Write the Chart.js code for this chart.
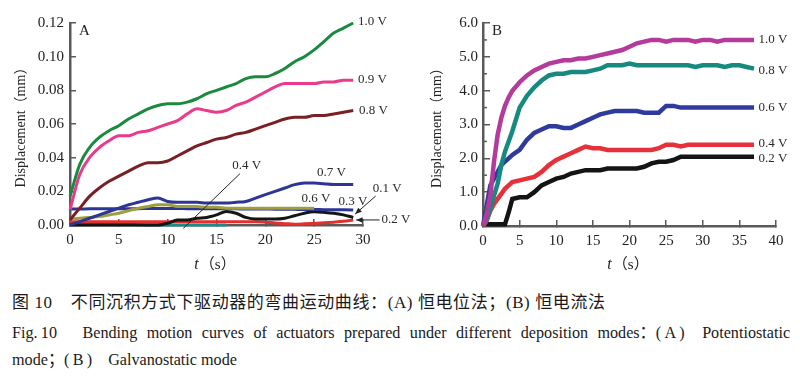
<!DOCTYPE html>
<html><head><meta charset="utf-8">
<script src="https://cdn.jsdelivr.net/npm/chart.js@4.4.0/dist/chart.umd.min.js"></script>
<style>
html,body{margin:0;padding:0;background:#fff;width:800px;height:376px;overflow:hidden;position:relative;}
#ca{position:absolute;left:0;top:0;}
#cb{position:absolute;left:420px;top:0;}
.cap{position:absolute;left:12px;white-space:nowrap;transform-origin:0 0;color:#1a1a1a;}
.ib{display:inline-block;}
#c1{top:288px;font:17px "Liberation Serif","Noto Sans CJK SC";letter-spacing:0.6px;}
#c2{top:318px;font:17px "Liberation Serif","Noto Sans CJK SC";width:819px;text-align:justify;text-align-last:justify;transform:scaleX(0.95);}
#c3{top:345px;font:17px "Liberation Serif","Noto Sans CJK SC";transform:scaleX(0.95);}
</style></head><body>
<canvas id="ca" width="420" height="285"></canvas>
<canvas id="cb" width="380" height="285"></canvas>
<div class="cap" id="c1">图 10&ensp;&ensp;不同沉积方式下驱动器的弯曲运动曲线：(A) 恒电位法；(B) 恒电流法</div>
<div class="cap" id="c2"><span class="ib">Fig.&#8201;10&emsp;</span> Bending motion curves of actuators prepared under different deposition <span class="ib">modes：(&#8201;A&#8201;)&#8194;</span> Potentiostatic</div>
<div class="cap" id="c3">mode；(&#8201;B&#8201;)&#8194;&#8194;Galvanostatic mode</div>
<script>
// ---------- Panel A (potentiostatic) ----------
const aTime = [0,1,2,3,4,5,6,7,8,9,10,11,12,13,14,15,16,17,18,19,20,21,22,23,24,25,26,27,28,29];
const aV10 = [0.017,0.036,0.046,0.052,0.056,0.059,0.063,0.066,0.069,0.071,0.072,0.072,0.073,0.075,0.078,0.080,0.082,0.084,0.087,0.088,0.088,0.090,0.093,0.097,0.100,0.104,0.109,0.114,0.117,0.120];
const aV09 = [0.009,0.030,0.040,0.046,0.050,0.053,0.053,0.055,0.056,0.058,0.060,0.062,0.066,0.069,0.068,0.067,0.068,0.071,0.073,0.076,0.079,0.082,0.084,0.084,0.084,0.084,0.085,0.085,0.086,0.086];
const aV08 = [0.003,0.010,0.017,0.022,0.026,0.029,0.032,0.035,0.037,0.037,0.038,0.041,0.044,0.047,0.049,0.051,0.052,0.054,0.055,0.057,0.059,0.061,0.063,0.064,0.064,0.065,0.065,0.066,0.067,0.068];
const aV07 = [0.000,0.002,0.004,0.006,0.008,0.010,0.012,0.0135,0.015,0.016,0.014,0.0135,0.0135,0.0135,0.013,0.013,0.013,0.0135,0.014,0.016,0.018,0.020,0.022,0.024,0.025,0.025,0.0245,0.024,0.024,0.024];
const aV06 = [0.0035,0.004,0.0045,0.005,0.006,0.007,0.0085,0.010,0.011,0.012,0.012,0.011,0.011,0.011,0.0105,0.0105,0.010,0.010,0.010,0.010,0.010,0.010,0.010,0.010,0.010,0.010,null,null,null,null];
const aV03 = [0.0095,0.0095,0.0096,0.0096,0.0097,0.0097,0.0097,0.0097,0.0098,0.0098,0.0098,0.0098,0.0097,0.0097,0.0097,0.0096,0.0096,0.0096,0.0095,0.0095,0.0095,0.0094,0.0094,0.0093,0.0092,0.0092,0.0091,0.0091,0.0090,0.0089];
const aV01 = [0,0,0,0,0,0,0,0,0,0,0.001,0.003,0.003,0.004,0.0045,0.006,0.008,0.007,0.0045,0.0035,0.0035,0.0035,0.004,0.0055,0.007,0.0078,0.0075,0.007,0.006,0.0045];
const aV02 = [0.002,0.002,0.002,0.002,0.002,0.002,0.002,0.002,0.002,0.002,0.002,0.002,0.002,0.002,0.002,0.002,0.002,0.002,0.002,0.002,0.0017,0.0012,0.0008,0.0005,0.0007,0.001,0.0013,0.0017,0.0022,0.003];
const aV04 = [0.0015,0.0014,0.0013,0.0012,0.001,0.0008,0.0004,0.0002,0,0,0,0,0,0,0,0,0,null,null,null,null,null,null,null,null,null,null,null,null,null];
const aXTicks = [0,5,10,15,20,25,30];
const aYTicks = [0,0.02,0.04,0.06,0.08,0.10,0.12];

// ---------- Panel B (galvanostatic) ----------
const bTime = [0,0.5,1,1.5,2,2.5,3,3.5,4,5,6,7,8,9,10,11,12,13,14,15,16,17,18,19,20,21,22,23,24,25,26,27,28,29,30,31,32,33,34,35,36,37];
const bV10 = [0,0.35,0.9,1.9,2.7,3.2,3.55,3.8,4.0,4.25,4.45,4.6,4.7,4.8,4.85,4.9,4.9,4.95,4.95,5.0,5.05,5.1,5.15,5.2,5.3,5.4,5.45,5.5,5.5,5.45,5.5,5.5,5.5,5.45,5.5,5.5,5.45,5.5,5.5,5.5,5.5,5.5];
const bV08 = [0,0.2,0.5,0.9,1.25,1.8,2.2,2.5,2.8,3.5,3.85,4.1,4.3,4.45,4.5,4.5,4.55,4.55,4.55,4.6,4.65,4.75,4.75,4.75,4.8,4.75,4.75,4.75,4.75,4.75,4.75,4.75,4.75,4.7,4.75,4.75,4.75,4.7,4.75,4.75,4.7,4.65];
const bV06 = [0,0.6,1.2,1.4,1.6,1.8,1.9,2.0,2.1,2.25,2.55,2.75,2.85,2.95,2.95,2.9,2.9,3.0,3.1,3.2,3.3,3.35,3.4,3.4,3.4,3.4,3.35,3.35,3.35,3.55,3.55,3.5,3.5,3.5,3.5,3.5,3.5,3.5,3.5,3.5,3.5,3.5];
const bV04 = [0,0.15,0.45,0.65,0.8,0.95,1.1,1.2,1.3,1.35,1.4,1.45,1.6,1.8,1.95,2.05,2.15,2.25,2.35,2.3,2.3,2.25,2.25,2.25,2.25,2.25,2.25,2.25,2.3,2.4,2.4,2.35,2.4,2.4,2.4,2.4,2.4,2.4,2.4,2.4,2.4,2.4];
const bV02 = [0.05,0.05,0.05,0.05,0.05,0.05,0.05,0.4,0.8,0.85,0.85,1.0,1.2,1.3,1.4,1.45,1.55,1.6,1.65,1.65,1.65,1.7,1.7,1.7,1.7,1.7,1.75,1.85,1.9,1.9,1.95,2.05,2.05,2.05,2.05,2.05,2.05,2.05,2.05,2.05,2.05,2.05];
const bXTicks = [0,5,10,15,20,25,30,35,40];
const bYTicks = [0,1,2,3,4,5,6];

const FONT = '"Liberation Serif", "Noto Sans CJK SC", serif';
const AXC = '#5a5a5a';

function pts(t, v){ return t.map((x,i)=>({x:x, y:v[i]})); }

function ds(label, t, v, color, w){
  return {label, data: pts(t,v), borderColor: color, backgroundColor: color, borderWidth: w,
    pointRadius: 0, fill: false, cubicInterpolationMode: 'monotone', spanGaps: false, clip: 6};
}

function axisOpts(ticksArr, fmt, isY, fit){
  return {
    type: 'linear', min: ticksArr[0], max: ticksArr[ticksArr.length-1],
    afterBuildTicks: s => { s.ticks = ticksArr.map(v=>({value:v})); },
    afterFit: fit,
    border: {display: true, color: AXC, width: 2.5},
    grid: {display: true, drawOnChartArea: false, drawTicks: true, tickLength: -6, color: AXC, lineWidth: 1.5},
    ticks: {padding: 12, color: '#222', font: {family: FONT, size: 15}, callback: v => fmt(v), maxRotation: 0, autoSkip: false}
  };
}

function noteDraw(chart, cfg){
  const {ctx} = chart; const x = chart.scales.x, y = chart.scales.y;
  const X = v => x.getPixelForValue(v), Y = v => y.getPixelForValue(v);
  ctx.save();
  ctx.fillStyle = '#2a2a2a';
  ctx.textBaseline = 'middle'; ctx.textAlign = 'left';
  ctx.font = '13px ' + FONT;
  cfg.labels.forEach(L => ctx.fillText(L[0], X(L[1]), Y(L[2])));
  ctx.strokeStyle = '#222'; ctx.lineWidth = 1;
  (cfg.lines||[]).forEach(Ln => {
    const x1=X(Ln[0]), y1=Y(Ln[1]), x2=X(Ln[2]), y2=Y(Ln[3]);
    ctx.beginPath(); ctx.moveTo(x1,y1); ctx.lineTo(x2,y2); ctx.stroke();
    if (Ln[4]) {
      const a = Math.atan2(y2-y1, x2-x1), h = 7;
      ctx.beginPath(); ctx.moveTo(x2,y2);
      ctx.lineTo(x2 - h*Math.cos(a-0.4), y2 - h*Math.sin(a-0.4));
      ctx.lineTo(x2 - h*Math.cos(a+0.4), y2 - h*Math.sin(a+0.4));
      ctx.closePath(); ctx.fillStyle = '#222'; ctx.fill();
    }
  });
  ctx.font = '15px ' + FONT; ctx.fillStyle = '#222';
  ctx.fillText(cfg.letter, chart.chartArea.left + 9, chart.chartArea.top + 8);
  const cx = (chart.chartArea.left + chart.chartArea.right)/2 - 2;
  const ty = cfg.titleY;
  ctx.font = 'italic 16px ' + FONT;
  const w1 = ctx.measureText('t').width;
  ctx.font = '15px ' + FONT;
  const rest = '（s）';
  const w2 = ctx.measureText(rest).width;
  const sx = cx - (w1 + w2)/2;
  ctx.font = 'italic 16px ' + FONT; ctx.fillText('t', sx, ty);
  ctx.font = '15px ' + FONT; ctx.fillText(rest, sx + w1 + 1, ty);
  if (cfg.minor) {
    ctx.strokeStyle = AXC; ctx.lineWidth = 1.5;
    cfg.minor.forEach(v => { const py = Y(v); ctx.beginPath(); ctx.moveTo(chart.chartArea.left, py); ctx.lineTo(chart.chartArea.left+4, py); ctx.stroke(); });
  }
  ctx.restore();
}

function baseOptions(xT, yT, xf, yf, padR, padT, yW, xH){
  return {
    responsive: false, animation: false, events: [],
    layout: {padding: {left: 0, right: padR, top: padT, bottom: 0}},
    plugins: {legend: {display: false}, tooltip: {enabled: false}},
    scales: {
      x: axisOpts(xT, xf, false, s => { s.height = xH; }),
      y: Object.assign(axisOpts(yT, yf, true, s => { s.width = yW; }),
         {title: {display: true, text: 'Displacement（mm）', color: '#222', font: {family: FONT, size: 14}, padding: {top: 13, bottom: 0}}})
    }
  };
}

const cA = [
  ds('1.0 V', aTime, aV10, '#1b8a3e', 3),
  ds('0.9 V', aTime, aV09, '#ea3a8c', 3),
  ds('0.8 V', aTime, aV08, '#7a2025', 3),
  ds('0.7 V', aTime, aV07, '#2c3694', 3),
  ds('0.6 V', aTime, aV06, '#a09d3e', 3),
  ds('0.3 V', aTime, aV03, '#2c3694', 3),
  ds('0.1 V', aTime, aV01, '#151515', 3),
  ds('0.2 V', aTime, aV02, '#e3302e', 3),
  ds('0.4 V', aTime, aV04, '#168d8a', 3)
];
new Chart(document.getElementById('ca'), {
  type: 'line',
  data: {datasets: cA},
  options: baseOptions(aXTicks, aYTicks, v => String(v), v => v.toFixed(2), 57, 23, 70, 60),
  plugins: [{id: 'notesA', afterDraw: c => noteDraw(c, {
    letter: 'A', titleY: 265,
    labels: [['1.0 V',29.5,0.1207],['0.9 V',29.5,0.0864],['0.8 V',29.6,0.068],['0.7 V',25.3,0.0314],
             ['0.6 V',23.7,0.0154],['0.3 V',27.5,0.0142],['0.1 V',31.0,0.0219],['0.2 V',31.9,0.003],['0.4 V',16.6,0.0355]],
    lines: [[31.3,0.0172,29.2,0.0065,true],[31.7,0.003,29.3,0.003,true],[17.4,0.0305,11.6,-0.002,false]]
  })}]
});

const cB = [
  ds('1.0 V', bTime, bV10, '#b43a9c', 4.5),
  ds('0.8 V', bTime, bV08, '#178a80', 4.5),
  ds('0.6 V', bTime, bV06, '#2f3b9c', 4.5),
  ds('0.4 V', bTime, bV04, '#e6303a', 4.5),
  ds('0.2 V', bTime, bV02, '#141414', 4.5)
];
cB.forEach(d => { d.cubicInterpolationMode = 'default'; d.tension = 0; });
const optB = baseOptions(bXTicks, bYTicks, v => String(v), v => v.toFixed(1), 24, 23, 63, 59);
optB.scales.y.grid.tickLength = -7;
optB.scales.y.title.padding = {top: 9, bottom: 0};
new Chart(document.getElementById('cb'), {
  type: 'line',
  data: {datasets: cB},
  options: optB,
  plugins: [{id: 'notesB', afterDraw: c => noteDraw(c, {
    letter: 'B', titleY: 265, minor: [0.5,1.5,2.5,3.5,4.5,5.5],
    labels: [['1.0 V',37.6,5.5],['0.8 V',37.6,4.59],['0.6 V',37.6,3.49],['0.4 V',37.6,2.43],['0.2 V',37.6,1.98]]
  })}]
});
</script>
</body></html>
